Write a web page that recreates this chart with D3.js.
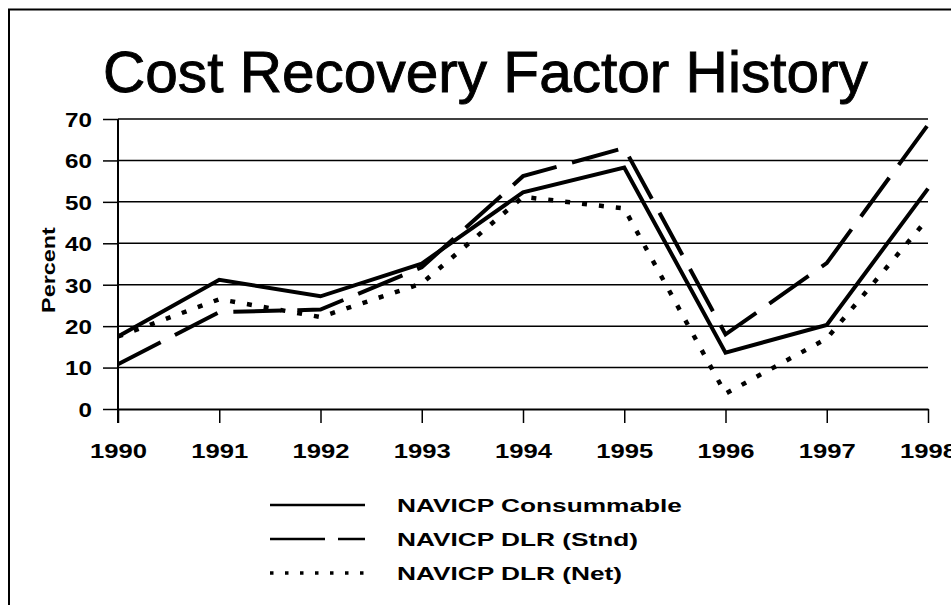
<!DOCTYPE html>
<html>
<head>
<meta charset="utf-8">
<script src="https://cdn.jsdelivr.net/npm/d3@7"></script>
<style>
  body { margin: 0; background: #fff; }
  svg { display: block; font-family: "Liberation Sans", Arial, sans-serif; }
</style>
</head>
<body>
<svg id="chart" width="951" height="605"></svg>
<script>
// data
const years = [1990, 1991, 1992, 1993, 1994, 1995, 1996, 1997, 1998];
const consumable = [17.5, 31.2, 27.2, 35.1, 52.3, 58.3, 13.6, 20.3, 53.2];
const dlrStnd = [10.8, 23.4, 24.0, 34.2, 56.2, 63.0, 18.0, 35.2, 68.6];
const dlrNet = [17.5, 26.5, 22.2, 30.3, 51.2, 48.4, 3.7, 17.0, 46.0];
const yTicks = [0, 10, 20, 30, 40, 50, 60, 70];
const seriesNames = ["NAVICP Consummable", "NAVICP DLR (Stnd)", "NAVICP DLR (Net)"];

const series = [
  {name: seriesNames[0], values: consumable, dash: null, w: 4},
  {name: seriesNames[1], values: dlrStnd, dash: "48,16", w: 4},
  {name: seriesNames[2], values: dlrNet, dash: "5,12", w: 4.5}
];

const svg = d3.select("#chart");

// frame (only top + left edges show in the scan)
svg.append("path")
  .attr("d", "M9,605 V9.5 H951")
  .attr("fill", "none")
  .attr("stroke", "#000")
  .attr("stroke-width", 2);

// title
svg.append("text")
  .attr("x", 103).attr("y", 92)
  .attr("font-size", 58)
  .attr("fill", "#000")
  .attr("stroke", "#000")
  .attr("stroke-width", 0.9)
  .attr("transform", "translate(103,0) scale(1.01,1) translate(-103,0)")
  .text("Cost Recovery Factor History");

const x = d3.scaleLinear().domain([1990, 1998]).range([118, 928]);
const y = d3.scaleLinear().domain([0, 70]).range([409, 119]);

// horizontal gridlines
svg.append("g").selectAll("line")
  .data(yTicks.filter(d => d > 0))
  .join("line")
  .attr("x1", 118).attr("x2", 928)
  .attr("y1", d => y(d)).attr("y2", d => y(d))
  .attr("stroke", "#000")
  .attr("stroke-width", 1.5);

// y axis
const yAxis = svg.append("g")
  .attr("transform", "translate(118,0)")
  .call(d3.axisLeft(y).tickValues(yTicks).tickSize(15).tickSizeOuter(0));
yAxis.select(".domain").remove();
yAxis.selectAll(".tick line").attr("stroke-width", 1.5);
yAxis.selectAll("text")
  .attr("x", null)
  .attr("dy", "0.36em")
  .attr("transform", "translate(-26,0) scale(1.18,1)")
  .attr("font-size", 20.5)
  .attr("font-weight", "bold")
  .attr("font-family", "Liberation Sans, Arial, sans-serif")
  .attr("fill", "#000");
svg.append("line")
  .attr("x1", 118).attr("x2", 118)
  .attr("y1", y(70)).attr("y2", 423)
  .attr("stroke", "#000").attr("stroke-width", 2);

// x axis
const xAxis = svg.append("g")
  .attr("transform", "translate(0,409)")
  .call(d3.axisBottom(x).tickValues(years).tickFormat(d3.format("d")).tickSize(14).tickSizeOuter(0));
xAxis.select(".domain").attr("stroke-width", 2);
xAxis.selectAll(".tick line").attr("stroke-width", 1.5);
xAxis.selectAll("text")
  .attr("y", 49)
  .attr("dy", null)
  .attr("transform", "scale(1.25,1)")
  .attr("font-size", 20.5)
  .attr("font-weight", "bold")
  .attr("font-family", "Liberation Sans, Arial, sans-serif")
  .attr("fill", "#000");

// y title
svg.append("text")
  .attr("transform", "translate(55,270) rotate(-90) scale(1.3,1)")
  .attr("text-anchor", "middle")
  .attr("font-size", 18)
  .attr("font-weight", "bold")
  .text("Percent");

// lines
const line = d3.line()
  .x((d, i) => x(years[i]))
  .y(d => y(d));

svg.append("g").selectAll("path")
  .data(series)
  .join("path")
  .attr("d", d => line(d.values))
  .attr("fill", "none")
  .attr("stroke", "#000")
  .attr("stroke-width", d => d.w)
  .attr("stroke-dasharray", d => d.dash)
  .attr("stroke-linejoin", "miter");

// legend
const legend = svg.append("g").selectAll("g")
  .data(series)
  .join("g")
  .attr("transform", (d, i) => `translate(270,${505 + i * 34})`);
legend.append("line")
  .attr("x1", 0).attr("x2", 95)
  .attr("stroke", "#000")
  .attr("stroke-width", (d, i) => i === 2 ? 3.5 : 2.5)
  .attr("stroke-dasharray", (d, i) => i === 1 ? "55,13" : (i === 2 ? "3.5,11.5" : null));
legend.append("text")
  .attr("transform", "translate(127,6.5) scale(1.42,1)")
  .attr("font-size", 18.5)
  .attr("font-weight", "bold")
  .text(d => d.name);
</script>
</body>
</html>
